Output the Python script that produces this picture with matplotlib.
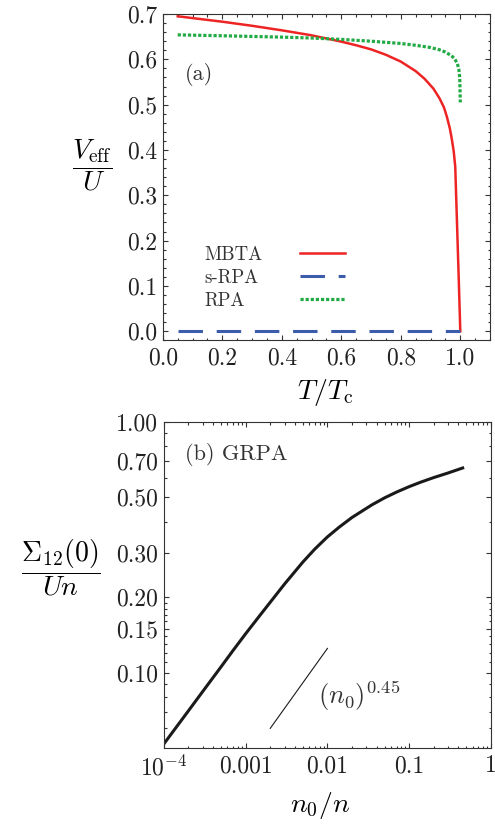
import numpy as np
import matplotlib as mpl
mpl.use('Agg')
import matplotlib.pyplot as plt
import matplotlib.ticker as ticker

# ---- panel (a): effective interaction vs T/Tc
t_mbta = [0.05, 0.1, 0.2, 0.3, 0.4, 0.5, 0.55, 0.6, 0.65, 0.7, 0.75, 0.8, 0.85, 0.88,
          0.91, 0.93, 0.945, 0.955, 0.965, 0.972, 0.978, 0.983, 0.9886, 0.995, 1.0]
v_mbta = [0.695, 0.691, 0.683, 0.674, 0.664, 0.653, 0.646, 0.639, 0.631, 0.622,
          0.610, 0.595, 0.574, 0.557, 0.535, 0.514, 0.494, 0.473, 0.447, 0.422,
          0.396, 0.363, 0.245, 0.11, 0.0]
t_srpa = [0.05, 1.0]
v_srpa = [0.0, 0.0]
t_rpa = [0.05, 0.2, 0.4, 0.5, 0.6, 0.7, 0.8, 0.85, 0.9, 0.93, 0.95, 0.97, 0.98,
         0.99, 0.995, 0.998, 1.0]
v_rpa = [0.654, 0.652, 0.649, 0.647, 0.644, 0.640, 0.635, 0.631, 0.626, 0.621,
         0.616, 0.608, 0.602, 0.591, 0.578, 0.56, 0.505]
labels_a = ['MBTA', 's-RPA', 'RPA']

# ---- panel (b): GRPA Sigma12(0)/Un vs n0/n
n0_grpa = [1e-4, 2e-4, 3e-4, 5e-4, 7e-4, 1e-3, 1.5e-3, 2e-3, 3e-3, 5e-3, 7e-3, 1e-2,
           1.4e-2, 2e-2, 3.5e-2, 5e-2, 7e-2, 0.1, 0.14, 0.2, 0.3, 0.45]
sig_grpa = [0.052, 0.0705, 0.0843, 0.1055, 0.1225, 0.143, 0.1695, 0.191, 0.226, 0.276,
            0.311, 0.348, 0.381, 0.416, 0.467, 0.498, 0.525, 0.552, 0.576, 0.600,
            0.626, 0.655]
n0_ref = [0.002, 0.01]
sig_ref = [0.060, 0.125]
xticks_b = [1e-4, 1e-3, 1e-2, 1e-1, 1]
xticklabels_b = ['$10^{-4}$', '0.001', '0.01', '0.1', '1']
yticks_b = [0.1, 0.15, 0.2, 0.3, 0.5, 0.7, 1.0]
yticklabels_b = ['0.10', '0.15', '0.20', '0.30', '0.50', '0.70', '1.00']
yminor_b = [0.06, 0.07, 0.08, 0.09, 0.11, 0.12, 0.13, 0.14, 0.16, 0.17, 0.18, 0.19,
            0.4, 0.6, 0.8, 0.9]

plt.rcParams['font.family'] = 'cmr10'
plt.rcParams['mathtext.fontset'] = 'cm'
plt.rcParams['axes.unicode_minus'] = False
plt.rcParams['axes.formatter.use_mathtext'] = True

fig = plt.figure(figsize=(4.95, 8.24), dpi=100)
ax_a = fig.add_axes([0.329, 0.587, 0.661, 0.396])
ax_b = fig.add_axes([0.331, 0.092, 0.661, 0.396])

c_red, c_blue, c_green = '#ee2424', '#3b5bab', '#22aa44'
txt_c = '#333333'

l1, = ax_a.plot(t_mbta, v_mbta, color=c_red, lw=1.8)
l2, = ax_a.plot(t_srpa, v_srpa, color=c_blue, lw=2.2, ls=(0, (8, 4.5)))
l3, = ax_a.plot(t_rpa, v_rpa, color=c_green, lw=2.3, ls=(0, (1, 0.6)))

ax_a.set_xlim(0, 1.1)
ax_a.set_ylim(-0.02, 0.7)
ax_a.xaxis.set_major_locator(ticker.MultipleLocator(0.2))
ax_a.xaxis.set_minor_locator(ticker.MultipleLocator(0.05))
ax_a.yaxis.set_major_locator(ticker.MultipleLocator(0.1))
ax_a.yaxis.set_minor_locator(ticker.MultipleLocator(0.02))
ax_a.xaxis.set_major_formatter(ticker.FormatStrFormatter('%.1f'))
ax_a.yaxis.set_major_formatter(ticker.FormatStrFormatter('%.1f'))

# legend: labels on the left, samples on the right (two stacked legends)
handles = [l1, l2, l3]
leg_kw = dict(frameon=False, fontsize=13.5, borderpad=0, borderaxespad=0, labelspacing=0.27)
leg_txt = ax_a.legend(handles, labels_a, loc='upper left', bbox_to_anchor=(0.128, 0.29),
                      handlelength=0, handletextpad=0, labelcolor=txt_c, **leg_kw)
for h in leg_txt.legend_handles:
    h.set_visible(False)
ax_a.add_artist(leg_txt)
ax_a.legend(handles, ['', '', ''], loc='upper right', bbox_to_anchor=(0.557, 0.29),
            markerfirst=False, handlelength=2.4, handletextpad=0, **leg_kw)

ax_a.text(0.067, 0.797, '(a)', transform=ax_a.transAxes, fontsize=16, color=txt_c,
          va='baseline')
ax_a.set_ylabel(r'$\dfrac{V_{\rm eff}}{U}$', rotation=0, fontsize=20, ha='center', va='center')
ax_a.yaxis.set_label_coords(-0.217, 0.537)
ax_a.set_xlabel(r'$T/T_{\rm c}$', fontsize=20, va='center')
ax_a.xaxis.set_label_coords(0.495, -0.16)

# ---- panel (b)
ax_b.set_xscale('log')
ax_b.set_yscale('log')
ax_b.plot(n0_grpa, sig_grpa, color='#1a1a1a', lw=2.2)
ax_b.plot(n0_ref, sig_ref, color='#1a1a1a', lw=0.8)
ax_b.set_xlim(1e-4, 1)
ax_b.set_ylim(0.05, 1.0)
ax_b.set_xticks(xticks_b, xticklabels_b)
ax_b.xaxis.set_minor_locator(ticker.LogLocator(base=10, subs=np.arange(2, 10)))
ax_b.xaxis.set_minor_formatter(ticker.NullFormatter())
ax_b.set_yticks(yticks_b, yticklabels_b)
ax_b.set_yticks(yminor_b, minor=True)
ax_b.yaxis.set_minor_formatter(ticker.NullFormatter())

ax_b.text(0.064, 0.883, '(b) GRPA', transform=ax_b.transAxes, fontsize=16, color=txt_c,
          va='baseline')
ax_b.text(0.0076, 0.075, r'$(n_0)^{0.45}$', fontsize=19, color=txt_c, va='baseline')
ax_b.set_ylabel(r'$\dfrac{\Sigma_{12}(0)}{Un}$', rotation=0, fontsize=20, ha='center', va='center')
ax_b.yaxis.set_label_coords(-0.315, 0.552)
ax_b.set_xlabel(r'$n_0/n$', fontsize=20, va='center')
ax_b.xaxis.set_label_coords(0.477, -0.175)

for ax in [ax_a, ax_b]:
    for sp in ax.spines.values():
        sp.set_color('#333333')
        sp.set_linewidth(0.8)
    ax.tick_params(which='both', direction='in', top=True, right=True,
                   labelsize=17, color='#333333', width=0.8, labelcolor='#222222')
    ax.tick_params(which='major', length=3.5)
    ax.tick_params(which='minor', length=1.8)
    ax.tick_params(axis='x', pad=5)
    ax.tick_params(axis='y', pad=4)

plt.savefig('out.png', dpi=100)
